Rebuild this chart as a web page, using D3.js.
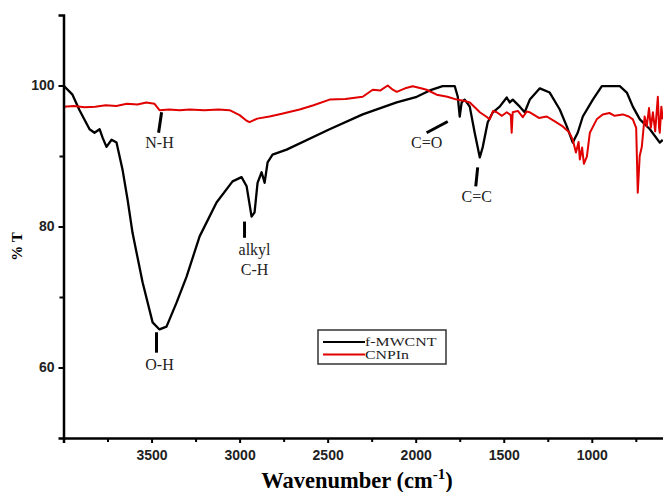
<!DOCTYPE html>
<html>
<head>
<meta charset="utf-8">
<script src="https://cdn.jsdelivr.net/npm/d3@7"></script>
<style>
  body { margin: 0; background: #fff; }
  svg { display: block; }
</style>
</head>
<body>
<svg id="chart" width="663" height="492"></svg>
<script>
// f-MWCNT spectrum: [wavenumber, %T]
const mwcntSpectrum = [
  [4000, 100.0], [3949, 98.7], [3909, 96.5], [3852, 93.8], [3824, 93.3], [3795, 93.8],
  [3778, 92.6], [3756, 91.3], [3727, 92.3], [3699, 91.9], [3665, 88.1], [3636, 83.8],
  [3608, 79.1], [3551, 72.1], [3494, 66.4], [3455, 65.4], [3415, 65.8], [3358, 69.2],
  [3301, 72.9], [3227, 78.6], [3131, 83.4], [3040, 86.4], [2989, 87.0], [2960, 85.7],
  [2932, 81.4], [2915, 82.0], [2898, 86.2], [2875, 87.7], [2858, 86.2], [2841, 89.1],
  [2813, 90.2], [2733, 90.9], [2489, 93.8], [2301, 95.9], [2108, 97.6], [1994, 98.4],
  [1920, 99.3], [1847, 99.9], [1778, 99.9], [1761, 98.4], [1750, 95.6], [1739, 97.6],
  [1722, 98.0], [1693, 97.0], [1665, 93.3], [1636, 89.8], [1619, 91.3], [1591, 94.8],
  [1562, 96.2], [1523, 97.0], [1483, 98.3], [1466, 97.6], [1449, 98.0], [1409, 97.0],
  [1381, 96.2], [1352, 98.0], [1295, 99.6], [1239, 99.0], [1182, 96.6], [1142, 94.2],
  [1108, 91.9], [1080, 93.3], [1051, 95.6], [994, 98.0], [943, 99.9], [841, 99.9],
  [801, 99.0], [767, 97.0], [727, 95.2], [670, 93.8], [614, 91.9], [597, 92.3]
];

// CNPIn spectrum: [wavenumber, %T]
const cnpinSpectrum = [
  [4000, 97.0], [3940, 97.1], [3880, 96.9], [3820, 97.0], [3760, 97.2], [3700, 97.1],
  [3640, 97.4], [3580, 97.3], [3530, 97.6], [3483, 97.4], [3455, 96.5], [3400, 96.6],
  [3340, 96.5], [3284, 96.6], [3200, 96.5], [3120, 96.6], [3057, 96.5], [3000, 95.8],
  [2960, 95.0], [2943, 94.8], [2900, 95.3], [2830, 95.6], [2760, 96.0], [2659, 96.6],
  [2580, 97.2], [2489, 98.0], [2400, 98.1], [2301, 98.4], [2244, 99.4], [2200, 99.3],
  [2159, 100.0], [2130, 99.4], [2108, 99.1], [2060, 99.6], [2017, 99.9], [1970, 99.6],
  [1938, 99.4], [1881, 98.7], [1820, 98.4], [1767, 98.0], [1720, 97.8], [1693, 97.6],
  [1660, 96.8], [1636, 96.2], [1600, 95.6], [1580, 95.2], [1560, 96.4], [1540, 96.2],
  [1510, 95.7], [1483, 96.2], [1460, 95.8], [1455, 93.3], [1449, 96.2], [1420, 96.4],
  [1392, 95.5], [1370, 96.3], [1352, 96.2], [1300, 95.4], [1256, 95.6], [1210, 94.9],
  [1165, 94.2], [1130, 93.4], [1108, 92.3], [1090, 90.5], [1075, 92.0], [1068, 89.5],
  [1055, 91.2], [1045, 88.9], [1028, 89.9], [1011, 93.3], [972, 95.2], [938, 95.9],
  [900, 96.1], [870, 95.7], [824, 95.9], [790, 95.6], [767, 95.2], [748, 94.0],
  [739, 84.8], [728, 90.0], [716, 91.3], [700, 95.6], [688, 94.2], [675, 96.8],
  [665, 94.0], [653, 96.2], [640, 93.5], [625, 98.4], [618, 94.0], [614, 93.3],
  [605, 97.0], [597, 95.2]
];

const seriesNames = ['f-MWCNT', 'CNPIn'];
const seriesColors = ['#000000', '#e00000'];

const xTicksMajor = [3500, 3000, 2500, 2000, 1500, 1000];
const xTicksMinor = [3750, 3250, 2750, 2250, 1750, 1250, 750];
const yTicksMajor = [60, 80, 100];
const yTicksMinor = [70, 90];

// band labels: text lines, marker from [w1,t1] to [w2,t2], text anchor [w,t]
const bandLabels = [
  { lines: ['N-H'], mark: [[3443, 96.2], [3460, 93.3]], at: [3455, 91.2] },
  { lines: ['alkyl', 'C-H'], mark: [[2972, 80.7], [2972, 78.4]], at: [2915, 76.0] },
  { lines: ['O-H'], mark: [[3472, 65.0], [3472, 62.1]], at: [3455, 59.7] },
  { lines: ['C=O'], mark: [[1818, 94.9], [1938, 93.3]], at: [1938, 91.2] },
  { lines: ['C=C'], mark: [[1648, 88.4], [1659, 85.7]], at: [1653, 83.5] }
];

const svg = d3.select('#chart');
const plotLeft = 63.5, plotRight = 664, plotTop = 15, plotBottom = 438;

const x = d3.scaleLinear().domain([4000, 590]).range([plotLeft, plotRight]);
const y = d3.scaleLinear().domain([50, 110]).range([plotBottom, plotTop]);

// spectra
const line = d3.line().x(d => x(d[0])).y(d => y(d[1]));
const plot = svg.append('g');
[mwcntSpectrum, cnpinSpectrum].forEach((data, i) => {
    plot.append('path')
        .datum(data)
        .attr('fill', 'none')
        .attr('stroke', seriesColors[i])
        .attr('stroke-width', i === 0 ? 2.3 : 2)
        .attr('stroke-linejoin', 'round')
        .attr('d', line);
});

// axes
const xAxis = svg.append('g')
    .attr('transform', `translate(0,${plotBottom})`)
    .call(d3.axisBottom(x).tickValues(xTicksMajor).tickSize(5).tickFormat(d3.format('d')));
svg.append('g')
    .attr('transform', `translate(0,${plotBottom})`)
    .call(d3.axisBottom(x).tickValues(xTicksMinor).tickSize(4).tickFormat(''))
    .select('.domain').remove();

const yAxis = svg.append('g')
    .attr('transform', `translate(${plotLeft},0)`)
    .call(d3.axisLeft(y).tickValues(yTicksMajor).tickSize(5));
svg.append('g')
    .attr('transform', `translate(${plotLeft},0)`)
    .call(d3.axisLeft(y).tickValues(yTicksMinor).tickSize(4).tickFormat(''))
    .select('.domain').remove();

svg.selectAll('.domain').attr('stroke', '#000').attr('stroke-width', 2.5);
svg.selectAll('.tick line').attr('stroke', '#000').attr('stroke-width', 2);
svg.selectAll('.tick text')
    .style('font-family', 'Arial, "Liberation Sans", sans-serif')
    .style('font-size', '14px')
    .style('font-weight', 'bold')
    .attr('fill', '#222');
xAxis.selectAll('.tick text').attr('y', 12);
yAxis.selectAll('.tick text').attr('x', -9);

// axis titles
svg.append('text')
    .attr('transform', `translate(22,${(plotTop + plotBottom) / 2 + 20}) rotate(-90)`)
    .attr('text-anchor', 'middle')
    .style('font-family', '"Times New Roman", "Liberation Serif", serif')
    .style('font-size', '15px')
    .style('font-weight', 'bold')
    .text('% T');

const xTitle = svg.append('text')
    .attr('x', 357)
    .attr('y', 488)
    .attr('text-anchor', 'middle')
    .style('font-family', '"Times New Roman", "Liberation Serif", serif')
    .style('font-size', '22.5px')
    .style('font-weight', 'bold');
xTitle.append('tspan').text('Wavenumber (cm');
xTitle.append('tspan').attr('dy', -9).style('font-size', '15px').text('-1');
xTitle.append('tspan').attr('dy', 9).text(')');

// band annotations
const notes = svg.append('g');
bandLabels.forEach(b => {
    notes.append('line')
        .attr('x1', x(b.mark[0][0])).attr('y1', y(b.mark[0][1]))
        .attr('x2', x(b.mark[1][0])).attr('y2', y(b.mark[1][1]))
        .attr('stroke', '#000')
        .attr('stroke-width', 3);
    b.lines.forEach((t, k) => {
        notes.append('text')
            .attr('x', x(b.at[0]))
            .attr('y', y(b.at[1]) + k * 20)
            .attr('text-anchor', 'middle')
            .style('font-family', '"Times New Roman", "Liberation Serif", serif')
            .style('font-size', '16px')
            .attr('fill', '#222')
            .text(t);
    });
});

// legend (text is drawn horizontally stretched, as in the original)
const legend = svg.append('g').attr('transform', 'translate(318,330)');
legend.append('rect')
    .attr('width', 128).attr('height', 34)
    .attr('fill', '#fff')
    .attr('stroke', '#333')
    .attr('stroke-width', 1.5);
seriesNames.forEach((name, i) => {
    const ly = 12 + i * 12.5;
    legend.append('line')
        .attr('x1', 5).attr('x2', 47)
        .attr('y1', ly).attr('y2', ly)
        .attr('stroke', seriesColors[i])
        .attr('stroke-width', 2);
    legend.append('text')
        .attr('transform', `translate(47,${ly + 4}) scale(1.38,1)`)
        .style('font-family', '"Times New Roman", "Liberation Serif", serif')
        .style('font-size', '11.5px')
        .attr('fill', '#222')
        .text(name);
});
</script>
</body>
</html>
